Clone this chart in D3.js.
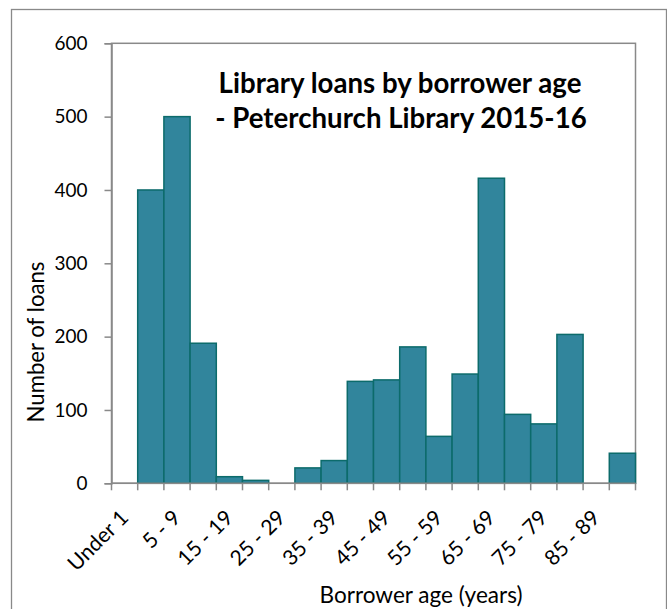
<!DOCTYPE html>
<html>
<head>
<meta charset="utf-8">
<script src="https://cdn.jsdelivr.net/npm/d3@7/dist/d3.min.js"></script>
<style>
  html, body { margin: 0; padding: 0; background: #ffffff; }
  svg { display: block; }
  text { font-family: Lato, "Open Sans", "Liberation Sans", sans-serif; fill: #000; }
</style>
</head>
<body>
<svg id="chart" width="667" height="609"></svg>
<script>
// ---- Data ----
const categories = ["Under 1", "1 - 4", "5 - 9", "10 - 14", "15 - 19", "20 - 24", "25 - 29",
  "30 - 34", "35 - 39", "40 - 44", "45 - 49", "50 - 54", "55 - 59", "60 - 64", "65 - 69",
  "70 - 74", "75 - 79", "80 - 84", "85 - 89", "90+"];
const loans = [0, 400, 500, 191, 9, 4, 0, 21, 31, 139, 141, 186, 64, 149, 416, 94, 81, 203, 0, 41];
const yTicks = [0, 100, 200, 300, 400, 500, 600];
const titleLines = ["Library loans by borrower age", "- Peterchurch Library 2015-16"];
const xTitle = "Borrower age (years)";
const yTitle = "Number of loans";

// ---- Layout ----
const W = 667, H = 609;
const plot = { left: 111.5, right: 635.5, top: 43.3, bottom: 483.3 };
const gridColor = "#898989";
const barFill = "#31859c";
const barStroke = "#0c6b6b";

const svg = d3.select("#chart");

function fitSize(txt, weight, target) {
  const t = svg.append("text").attr("font-size", 100).attr("font-weight", weight).text(txt);
  const w = t.node().getComputedTextLength();
  t.remove();
  return 100 * target / w;
}

svg.append("rect").attr("x", 0).attr("y", 0).attr("width", W).attr("height", H).attr("fill", "#fff");
// outer chart frame
svg.append("rect").attr("x", 11.5).attr("y", 9.5).attr("width", 655).attr("height", 640)
  .attr("fill", "none").attr("stroke", gridColor).attr("stroke-width", 1.3);

const x = d3.scaleBand().domain(categories).range([plot.left, plot.right]).padding(0);
const y = d3.scaleLinear().domain([0, 600]).range([plot.bottom, plot.top]);

// plot area border
svg.append("rect").attr("x", plot.left).attr("y", plot.top)
  .attr("width", plot.right - plot.left).attr("height", plot.bottom - plot.top)
  .attr("fill", "none").attr("stroke", gridColor).attr("stroke-width", 1.5);

// bars
svg.append("g").selectAll("rect").data(categories.map((c, i) => ({ c, v: loans[i] })).filter(d => d.v > 0))
  .join("rect")
  .attr("x", d => x(d.c))
  .attr("width", x.bandwidth())
  .attr("y", d => y(d.v))
  .attr("height", d => y(0) - y(d.v))
  .attr("fill", barFill)
  .attr("stroke", barStroke)
  .attr("stroke-width", 1.5);

// Y axis
const tickFont = fitSize("300", "normal", 33);
const yAxis = svg.append("g").attr("transform", `translate(${plot.left},0)`)
  .call(d3.axisLeft(y).tickValues(yTicks).tickSize(7).tickPadding(17).tickFormat(d3.format("d")));
yAxis.select(".domain").attr("stroke", gridColor).attr("stroke-width", 1.5);
yAxis.selectAll(".tick line").attr("stroke", gridColor).attr("stroke-width", 1.5);
yAxis.selectAll(".tick text").attr("font-size", tickFont).attr("font-family", "Lato, sans-serif").attr("fill", "#000");

// X axis baseline and boundary ticks
const xAxisG = svg.append("g");
xAxisG.append("line").attr("x1", plot.left).attr("x2", plot.right)
  .attr("y1", y(0)).attr("y2", y(0)).attr("stroke", gridColor).attr("stroke-width", 1.5);
const bounds = categories.map(c => x(c)).concat([x.range()[1]]);
xAxisG.selectAll("line.tk").data(bounds).join("line").attr("class", "tk")
  .attr("x1", d => d).attr("x2", d => d)
  .attr("y1", y(0)).attr("y2", y(0) + 7)
  .attr("stroke", gridColor).attr("stroke-width", 1.5);

// X labels (every other category)
const xLabFont = fitSize("35 - 39", "normal", 68);
xAxisG.selectAll("text.xl").data(categories.filter((c, i) => i % 2 === 0)).join("text").attr("class", "xl")
  .attr("transform", d => `translate(${x(d) + x.bandwidth() / 2 + 5},${519}) rotate(-45)`)
  .attr("text-anchor", "end")
  .attr("font-size", xLabFont)
  .text(d => d);

// Axis titles
const xtSize = fitSize(xTitle, "normal", 203);
svg.append("text").attr("x", 421).attr("y", 603).attr("text-anchor", "middle")
  .attr("font-size", xtSize).text(xTitle);
const ytSize = fitSize(yTitle, "normal", 161);
svg.append("text").attr("transform", `translate(44,342) rotate(-90)`).attr("text-anchor", "middle")
  .attr("font-size", ytSize).text(yTitle);

// Title
const tSize = fitSize(titleLines[0], "bold", 363);
svg.append("text").attr("x", 400).attr("y", 93.3).attr("text-anchor", "middle")
  .attr("font-weight", "bold").attr("font-size", tSize).text(titleLines[0]);
svg.append("text").attr("x", 401).attr("y", 128.3).attr("text-anchor", "middle")
  .attr("font-weight", "bold").attr("font-size", tSize).text(titleLines[1]);
</script>
</body>
</html>
